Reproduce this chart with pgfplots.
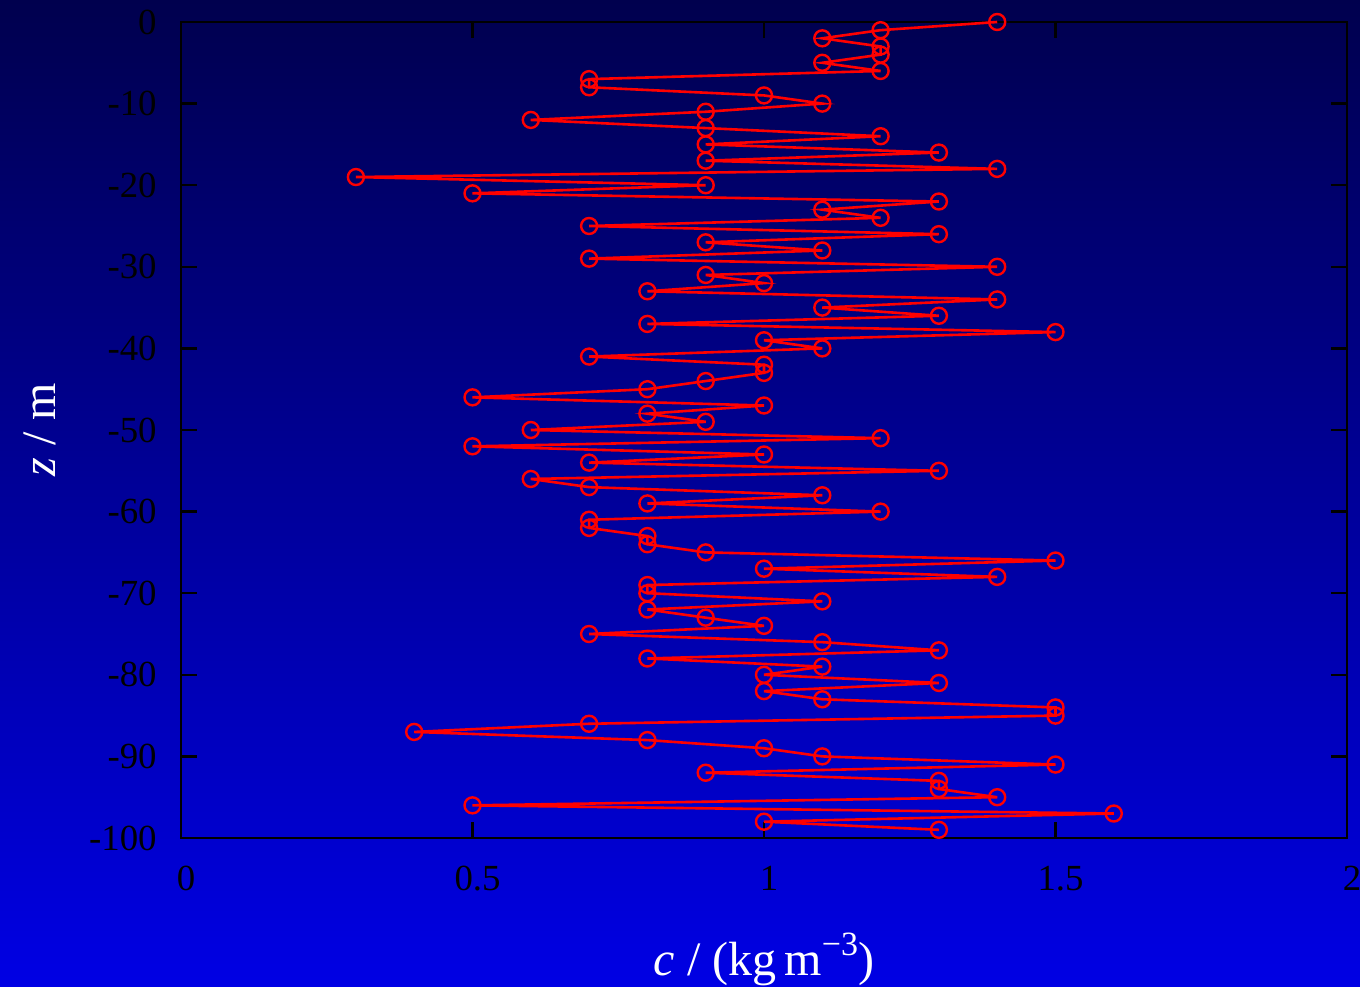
\documentclass[border=0pt]{standalone}
\usepackage{fontspec}
\setmainfont{Liberation Serif}
\usepackage{pgfplots}
\usepackage{pgfplotstable}
\pgfplotsset{compat=1.18}
\definecolor{bgtop}{RGB}{0,0,78}
\definecolor{bgbot}{RGB}{0,0,228}

% concentration profile: depth z (m), c (kg m^-3)
\pgfplotstableread{
z c
0 1.4
-1 1.2
-2 1.1
-3 1.2
-4 1.2
-5 1.1
-6 1.2
-7 0.7
-8 0.7
-9 1.0
-10 1.1
-11 0.9
-12 0.6
-13 0.9
-14 1.2
-15 0.9
-16 1.3
-17 0.9
-18 1.4
-19 0.3
-20 0.9
-21 0.5
-22 1.3
-23 1.1
-24 1.2
-25 0.7
-26 1.3
-27 0.9
-28 1.1
-29 0.7
-30 1.4
-31 0.9
-32 1.0
-33 0.8
-34 1.4
-35 1.1
-36 1.3
-37 0.8
-38 1.5
-39 1.0
-40 1.1
-41 0.7
-42 1.0
-43 1.0
-44 0.9
-45 0.8
-46 0.5
-47 1.0
-48 0.8
-49 0.9
-50 0.6
-51 1.2
-52 0.5
-53 1.0
-54 0.7
-55 1.3
-56 0.6
-57 0.7
-58 1.1
-59 0.8
-60 1.2
-61 0.7
-62 0.7
-63 0.8
-64 0.8
-65 0.9
-66 1.5
-67 1.0
-68 1.4
-69 0.8
-70 0.8
-71 1.1
-72 0.8
-73 0.9
-74 1.0
-75 0.7
-76 1.1
-77 1.3
-78 0.8
-79 1.1
-80 1.0
-81 1.3
-82 1.0
-83 1.1
-84 1.5
-85 1.5
-86 0.7
-87 0.4
-88 0.8
-89 1.0
-90 1.1
-91 1.5
-92 0.9
-93 1.3
-94 1.3
-95 1.4
-96 0.5
-97 1.6
-98 1.0
-99 1.3
}\profile

\begin{document}
\begin{tikzpicture}
\shade[top color=bgtop, bottom color=bgbot] (0,0) rectangle (680pt,493pt);
\begin{axis}[
    at={(90.5pt,74pt)}, anchor=south west,
    scale only axis, width=583pt, height=408pt,
    xmin=0, xmax=2, ymin=-100, ymax=0,
    xtick={0,0.5,1,1.5,2}, ytick={-100,-90,...,0},
    axis line style={black, line width=1.2pt},
    every tick/.style={black, line width=1.2pt},
    major tick length=8pt,
    tick align=inside,
    ticklabel style={black, font=\fontsize{18.4}{20}\selectfont},
    /pgf/number format/assume math mode=true,
    xticklabel style={anchor=north, inner sep=0pt, yshift=-14pt, xshift=2.5pt},
    yticklabel style={anchor=east, inner sep=0pt, xshift=-12pt},
    label style={white, font=\fontsize{24}{26}\selectfont},
    xlabel={\textit{c} / (kg\,m\raisebox{0.42em}{\fontsize{17}{17}\selectfont −3})},
    ylabel={\textit{z} / m},
    xlabel style={at={(axis description cs:0.5,-0.149)}, anchor=center},
    ylabel style={at={(axis description cs:-0.121,0.5)}, anchor=center},
    clip=false,
]
\addplot[red, line width=1.3pt, mark=o, mark size=4pt,
    mark options={solid, line width=1.2pt}] table[x=c, y=z] {\profile};
\end{axis}
\pgfresetboundingbox
\path[use as bounding box] (0,0) rectangle (680pt,493pt);
\end{tikzpicture}
\end{document}
